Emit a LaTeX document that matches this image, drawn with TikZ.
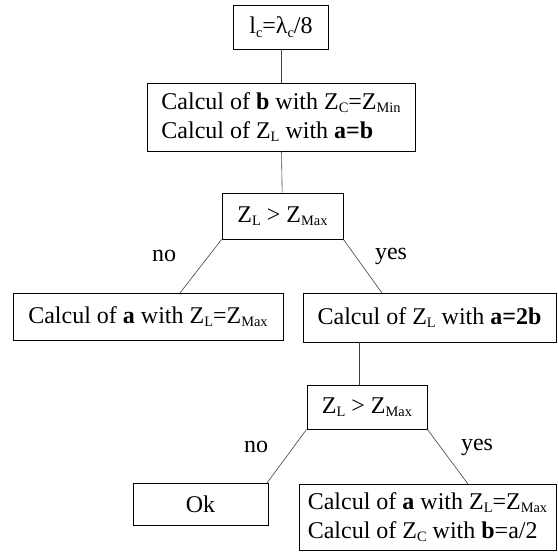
\documentclass[tikz,border=0pt]{standalone}
\usepackage{fontspec}
\setmainfont{Liberation Serif}
\newcommand{\sbx}[1]{\raisebox{-0.3ex}{\scalebox{0.6}{#1}}}
\begin{document}
\begin{tikzpicture}[x=1pt,y=-1pt,
  box/.style={draw=black,line width=0.9pt,inner sep=0pt,font=\fontsize{24}{29}\selectfont},
  link/.style={draw=black!75,line width=0.6pt},
  lbl/.style={font=\fontsize{24}{29}\selectfont,inner sep=0pt}]
\useasboundingbox (0,0) rectangle (558,553);
\node[box,minimum width=95pt,minimum height=44pt] (b1) at (281,27) {l\sbx{c}=λ\sbx{c}/8};
\node[box,minimum width=268pt,minimum height=68pt,align=left] (b2) at (281,117) {Calcul of \textbf{b} with Z\sbx{C}=Z\sbx{Min}\\Calcul of Z\sbx{L} with \textbf{a=b}};
\node[box,minimum width=121pt,minimum height=46pt] (b3) at (282.5,216) {Z\sbx{L} > Z\sbx{Max}};
\node[box,minimum width=270pt,minimum height=47pt] (b4) at (148,316.5) {Calcul of \textbf{a} with Z\sbx{L}=Z\sbx{Max}};
\node[box,minimum width=253pt,minimum height=49pt] (b5) at (429.5,317.5) {Calcul of Z\sbx{L} with \textbf{a=2b}};
\node[box,minimum width=120pt,minimum height=44pt] (b6) at (367,407) {Z\sbx{L} > Z\sbx{Max}};
\node[box,minimum width=135pt,minimum height=42pt] (b7) at (200.5,504) {Ok};
\node[box,minimum width=257pt,minimum height=66pt,align=left] (b8) at (427.5,517) {Calcul of \textbf{a} with Z\sbx{L}=Z\sbx{Max}\\Calcul of Z\sbx{C} with \textbf{b}=a/2};
\coordinate (p4) at (180,293);
\coordinate (p5) at (382,293);
\coordinate (q5) at (359,342);
\coordinate (q6) at (359,385);
\coordinate (p7) at (267,483);
\coordinate (p8) at (468,484);
\draw[link] (b1) -- (b2);
\draw[link] (b2) -- (b3);
\draw[link] (b3.south west) -- (p4);
\draw[link] (b3.south east) -- (p5);
\draw[link] (q5) -- (q6);
\draw[link] (b6.south west) -- (p7);
\draw[link] (b6.south east) -- (p8);
\node[lbl] (n1) at (164,256) {no};
\node[lbl] (y1) at (391,256) {yes};
\node[lbl] (n2) at (256,447) {no};
\node[lbl] (y2) at (477,447) {yes};
\end{tikzpicture}
\end{document}
